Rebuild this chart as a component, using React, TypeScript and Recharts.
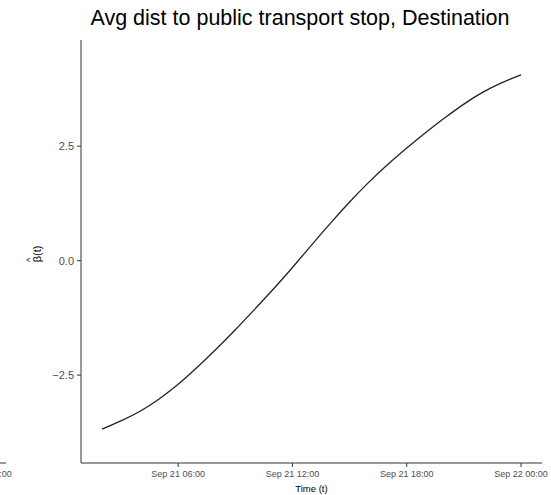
import { LineChart, Line, XAxis, YAxis } from 'recharts';

// hours since Sep 21 00:00
const hours = [2, 3, 4, 5, 6, 7, 8, 9, 10, 11, 12, 13, 14, 15, 16, 17, 18, 19, 20, 21, 22, 23, 24];
const beta = [
    -3.68, -3.5, -3.29, -3.02, -2.7, -2.33, -1.93, -1.51, -1.07, -0.62, -0.15, 0.34,
    0.82, 1.28, 1.71, 2.1, 2.46, 2.8, 3.12, 3.42, 3.68, 3.89, 4.06,
];
const xTicks = [6, 12, 18, 24];
const xTickLabels = ['Sep 21 06:00', 'Sep 21 12:00', 'Sep 21 18:00', 'Sep 22 00:00'];
const yTicks = [-2.5, 0, 2.5];

const data = hours.map((h, i) => ({ h, beta: beta[i] }));

const FONT = 'Liberation Sans, Arial, sans-serif';
const AXIS = '#333333';
const TICK_TEXT = '#4d4d4d';

const fmtY = (v: number) => (v < 0 ? '\u2212' + Math.abs(v).toFixed(1) : v.toFixed(1));
const fmtX = (v: number) => xTickLabels[xTicks.indexOf(v)] ?? '';

const BetaLabel = () => (
    <g transform="translate(41, 254) rotate(-90)" fontFamily={FONT} fill="#000">
        <text x={0} y={0} textAnchor="middle" fontSize={11}>
            β(t)
        </text>
        <text x={-6} y={-8} textAnchor="middle" fontSize={9}>
            ^
        </text>
    </g>
);

const TimeLabel = () => (
    <text x={311.5} y={492} textAnchor="middle" fontSize={9.5} fontFamily={FONT} fill="#000">
        Time (t)
    </text>
);

export default function App() {
    return (
        <div style={{ position: 'absolute', left: 0, top: 0, width: 551, height: 495, background: '#fff' }}>
            <LineChart width={551} height={495} data={data} margin={{ top: 40, right: 9, bottom: 0, left: 41 }}>
                <XAxis
                    dataKey="h"
                    type="number"
                    domain={[0.9, 25.1]}
                    ticks={xTicks}
                    tickFormatter={fmtX}
                    height={32}
                    stroke={AXIS}
                    tickSize={4}
                    tickMargin={4}
                    tick={{ fill: TICK_TEXT, fontSize: 9, fontFamily: FONT }}
                    label={<TimeLabel />}
                />
                <YAxis
                    type="number"
                    domain={[-4.42, 4.82]}
                    ticks={yTicks}
                    tickFormatter={fmtY}
                    width={40}
                    stroke={AXIS}
                    tickSize={4}
                    tickMargin={3}
                    tick={{ fill: TICK_TEXT, fontSize: 11, fontFamily: FONT }}
                    label={<BetaLabel />}
                />
                <Line
                    dataKey="beta"
                    type="natural"
                    stroke="#222"
                    strokeWidth={1.3}
                    dot={false}
                    isAnimationActive={false}
                />
            </LineChart>
            <div
                style={{
                    position: 'absolute',
                    left: 0,
                    top: 6,
                    width: 600,
                    textAlign: 'center',
                    fontFamily: FONT,
                    fontSize: 21.5,
                    color: '#000',
                }}
            >
                Avg dist to public transport stop, Destination
            </div>
            {/* edge of the neighbouring panel's time axis */}
            <svg style={{ position: 'absolute', left: 0, top: 0 }} width={20} height={495}>
                <line x1={-20} y1={463} x2={6} y2={463} stroke={AXIS} strokeWidth={1} />
                <text x={-15} y={477} textAnchor="middle" fontSize={9} fontFamily={FONT} fill={TICK_TEXT}>
                    Sep 22 00:00
                </text>
            </svg>
        </div>
    );
}
